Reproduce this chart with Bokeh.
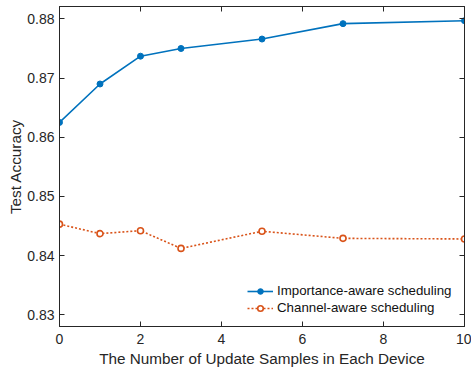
from bokeh.plotting import figure
from bokeh.models import LinearAxis, Legend, LegendItem, FixedTicker, Range1d
from bokeh.embed import file_html
from bokeh.resources import INLINE

samples = [0, 1, 2, 3, 5, 7, 10]
importance_acc = [0.8625, 0.8690, 0.8737, 0.8750, 0.8766, 0.8792, 0.8797]
channel_acc = [0.8453, 0.8437, 0.8442, 0.8412, 0.8441, 0.8429, 0.8428]
x_ticks = [0, 2, 4, 6, 8, 10]
y_ticks = [0.83, 0.84, 0.85, 0.86, 0.87, 0.88]

FONT = "Liberation Sans"
AX = "#262626"

p = figure(width=471, height=369, output_backend="svg", toolbar_location=None,
           x_range=Range1d(0, 10), y_range=Range1d(0.828, 0.8821),
           min_border_left=59, min_border_right=7, min_border_top=6, min_border_bottom=43)
p.grid.visible = False
p.outline_line_color = AX
p.outline_line_width = 1
p.background_fill_color = "white"
p.border_fill_color = "white"

def style(ax):
    ax.major_tick_in = 5
    ax.major_tick_out = 0
    ax.minor_tick_in = 0
    ax.minor_tick_out = 0
    ax.axis_line_color = AX
    ax.major_tick_line_color = AX
    ax.major_label_text_font = FONT
    ax.major_label_text_font_size = "14px"
    ax.major_label_text_color = AX
    ax.axis_label_text_font = FONT
    ax.axis_label_text_font_size = "15.3px"
    ax.axis_label_text_font_style = "normal"
    ax.axis_label_text_color = AX

p.xaxis.ticker = FixedTicker(ticks=x_ticks)
p.yaxis.ticker = FixedTicker(ticks=y_ticks)
p.yaxis.formatter.use_scientific = False
style(p.xaxis[0])
style(p.yaxis[0])
p.xaxis.axis_label = "The Number of Update Samples in Each Device"
p.yaxis.axis_label = "Test Accuracy"
p.xaxis.major_label_standoff = 7
p.xaxis.axis_label_standoff = 3
p.yaxis.major_label_standoff = 5
p.yaxis.axis_label_standoff = 0

top = LinearAxis(ticker=FixedTicker(ticks=x_ticks))
right = LinearAxis(ticker=FixedTicker(ticks=y_ticks))
style(top)
style(right)
top.major_label_overrides = {t: "" for t in x_ticks}
right.major_label_overrides = {t: "" for t in y_ticks}
top.major_label_standoff = 0
right.major_label_standoff = 0
p.add_layout(top, "above")
p.add_layout(right, "right")

blue = "#0072BD"
orange = "#D95319"
l1 = p.line(samples, importance_acc, line_color=blue, line_width=1.6)
m1 = p.scatter(samples, importance_acc, marker="circle", size=6, fill_color=blue, line_color=blue)
l2 = p.line(samples, channel_acc, line_color=orange, line_width=1.6, line_dash="2 2")
m2 = p.scatter(samples, channel_acc, marker="circle", size=6, fill_color="white", line_color=orange, line_width=1.6)

legend = Legend(items=[LegendItem(label="Importance-aware scheduling", renderers=[l1, m1]),
                       LegendItem(label="Channel-aware scheduling", renderers=[l2, m2])],
                location=(184, 7))
legend.border_line_alpha = 0
legend.background_fill_alpha = 0
legend.label_text_font = FONT
legend.label_text_font_size = "13.3px"
legend.label_text_color = "#111111"
legend.glyph_width = 26
legend.glyph_height = 14
legend.label_standoff = 4
legend.spacing = 2
legend.padding = 4
legend.margin = 0
p.add_layout(legend, "center")

open("out.html", "w").write(file_html(p, INLINE))
